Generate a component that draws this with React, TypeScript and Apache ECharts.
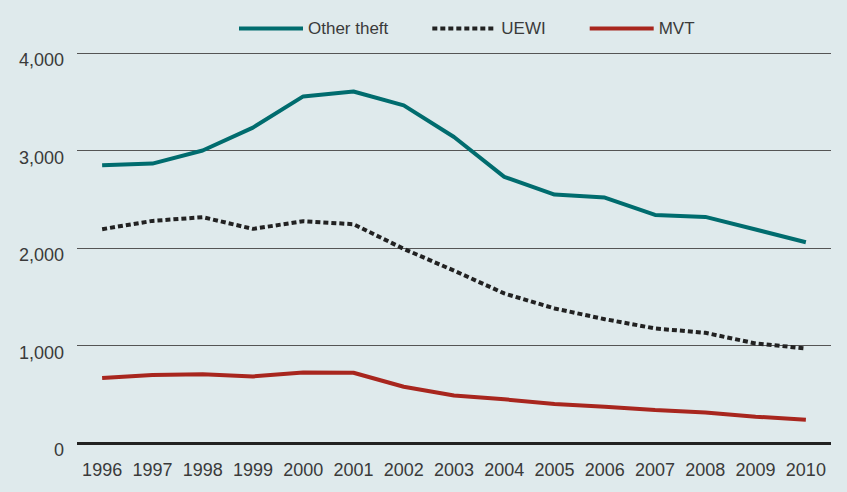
import React, { useEffect, useRef } from "react";
import * as echarts from "echarts";

const years = ["1996","1997","1998","1999","2000","2001","2002","2003","2004","2005","2006","2007","2008","2009","2010"];
const otherTheft = [2848, 2866, 3000, 3235, 3555, 3605, 3463, 3138, 2729, 2548, 2517, 2339, 2319, 2190, 2059];
const uewi = [2193, 2278, 2316, 2196, 2275, 2244, 1991, 1768, 1534, 1380, 1270, 1175, 1130, 1021, 970];
const mvt = [666, 697, 704, 683, 724, 720, 577, 487, 448, 400, 372, 338, 314, 270, 239];
const seriesNames = ["Other theft", "UEWI", "MVT"];

const FONT = "'Liberation Sans', Arial, sans-serif";
const TEXT = "#3a3a3a";

export default function App() {
  const ref = useRef<HTMLDivElement>(null);
  useEffect(() => {
    document.body.style.margin = "0";
    const chart = echarts.init(ref.current!, undefined, { renderer: "svg" });
    chart.setOption({
      animation: false,
      backgroundColor: "#dfeaec",
      textStyle: { fontFamily: FONT },
      legend: {
        left: 232,
        top: 15,
        itemWidth: 64,
        itemHeight: 14,
        itemGap: 42,
        itemStyle: { opacity: 0 },
        lineStyle: { width: 4 },
        textStyle: { fontFamily: FONT, fontSize: 17, color: TEXT },
        data: seriesNames,
      },
      grid: { left: 77, right: 16, top: 53, bottom: 49, containLabel: false },
      xAxis: {
        type: "category",
        data: years,
        boundaryGap: true,
        axisLine: { show: false },
        axisTick: { show: false },
        axisLabel: { fontFamily: FONT, fontSize: 18, color: TEXT, margin: 18, interval: 0 },
      },
      yAxis: {
        type: "value",
        min: 0,
        max: 4000,
        interval: 1000,
        axisLine: { show: false },
        axisTick: { show: false },
        splitLine: { lineStyle: { color: "#555", width: 1 } },
        axisLabel: {
          fontFamily: FONT,
          fontSize: 18,
          color: TEXT,
          margin: 13,
          verticalAlign: "top",
          lineHeight: 14,
          formatter: (v: number) => v.toLocaleString("en-US"),
        },
      },
      series: [
        {
          name: seriesNames[0],
          type: "line",
          data: otherTheft,
          symbol: "none",
          lineStyle: { color: "#006c6e", width: 4 },
          itemStyle: { color: "#006c6e" },
        },
        {
          name: seriesNames[1],
          type: "line",
          data: uewi,
          symbol: "none",
          lineStyle: { color: "#222", width: 4, type: [5, 3] },
          itemStyle: { color: "#222" },
        },
        {
          name: seriesNames[2],
          type: "line",
          data: mvt,
          symbol: "none",
          lineStyle: { color: "#a8261e", width: 4 },
          itemStyle: { color: "#a8261e" },
          markLine: {
            silent: true,
            symbol: "none",
            label: { show: false },
            lineStyle: { color: "#222", width: 3, type: "solid" },
            data: [{ yAxis: 0 }],
          },
        },
      ],
    });
    return () => chart.dispose();
  }, []);
  return <div ref={ref} style={{ width: 847, height: 492 }} />;
}
